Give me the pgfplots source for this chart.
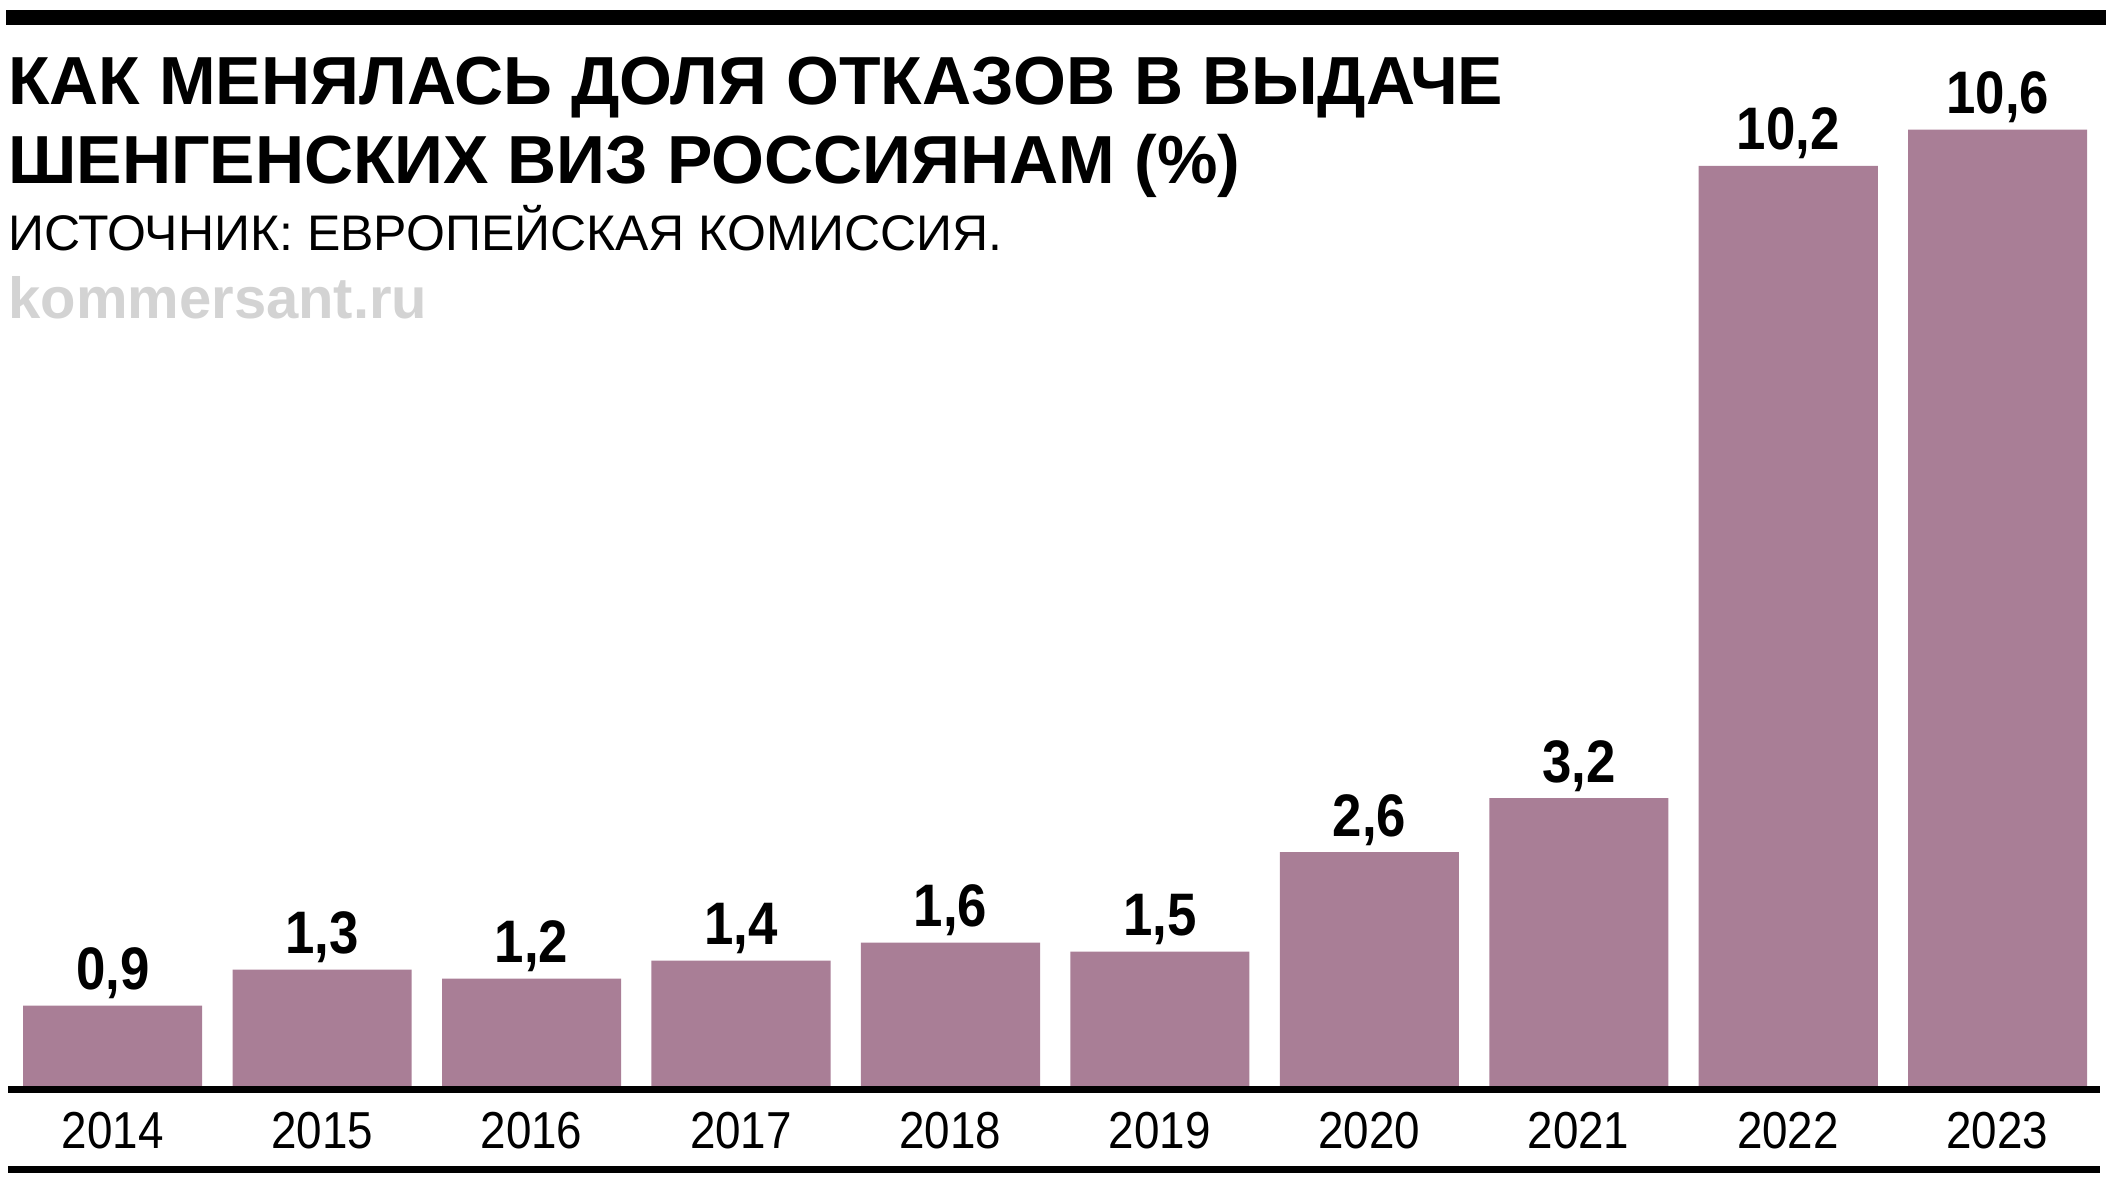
\documentclass[border=0pt]{standalone}
\usepackage{fontspec}
\setmainfont{Liberation Sans}
\newfontfamily\tickfont{Liberation Sans}[FakeStretch=0.88]
\newfontfamily\valfont{Liberation Sans}[FakeStretch=0.88]
\usepackage{pgfplots}
\usepackage{pgfplotstable}
\pgfplotsset{compat=1.18}
\definecolor{barc}{RGB}{169,126,150}
\definecolor{wm}{RGB}{211,211,211}
\pgfplotstableread{
x y lab
0 0.9 0,9
1 1.3 1,3
2 1.2 1,2
3 1.4 1,4
4 1.6 1,6
5 1.5 1,5
6 2.6 2,6
7 3.2 3,2
8 10.2 10,2
9 10.6 10,6
}\datatable
\begin{document}
\begin{tikzpicture}
\path[use as bounding box] (0pt,0pt) rectangle (1053pt,-592pt);
% top rule
\fill[black] (3pt,-5pt) rectangle (1053pt,-12.5pt);
% titles
\node[anchor=base west, inner sep=0pt, font=\fontsize{34}{40}\selectfont\bfseries] at (4pt,-52pt) {КАК МЕНЯЛАСЬ ДОЛЯ ОТКАЗОВ В ВЫДАЧЕ};
\node[anchor=base west, inner sep=0pt, font=\fontsize{34}{40}\selectfont\bfseries] at (4pt,-91.5pt) {ШЕНГЕНСКИХ ВИЗ РОССИЯНАМ (\%)};
\node[anchor=base west, inner sep=0pt, font=\fontsize{25}{29}\selectfont] at (4pt,-125pt) {ИСТОЧНИК: ЕВРОПЕЙСКАЯ КОМИССИЯ.};
\node[anchor=base west, inner sep=0pt, text=wm, font=\fontsize{29}{34}\selectfont\bfseries] at (4pt,-159pt) {kommersant.ru};
\begin{axis}[
  at={(56.35pt,-543.5pt)}, anchor=origin,
  scale only axis, width=1045pt, height=496.7pt,
  xmin=-0.5, xmax=9.48, ymin=0, ymax=11,
  axis lines=none,
  xtick=\empty,
  ytick=\empty,
  clip=false,
]
\addplot[ybar, bar width=0.855, fill=barc, draw=none,
  point meta=explicit symbolic,
  nodes near coords={\pgfplotspointmeta},
  nodes near coords style={anchor=base, inner sep=0pt, yshift=8pt, font=\fontsize{30}{34}\selectfont\valfont\bfseries, text=black},
] table[x=x, y=y, meta=lab] {\datatable};
\end{axis}
% tick labels
\foreach \i/\yr in {0/2014,1/2015,2/2016,3/2017,4/2018,5/2019,6/2020,7/2021,8/2022,9/2023}{
  \node[anchor=base, inner sep=0pt, font=\fontsize{26}{30}\selectfont\tickfont] at ({(112.7+209.4*\i)*0.5pt},-574pt) {\yr};
}
% axis and bottom rules
\draw[line width=3.5pt] (4pt,-544.75pt) -- (1050pt,-544.75pt);
\draw[line width=3.5pt] (4pt,-584.75pt) -- (1050pt,-584.75pt);
\end{tikzpicture}
\end{document}
